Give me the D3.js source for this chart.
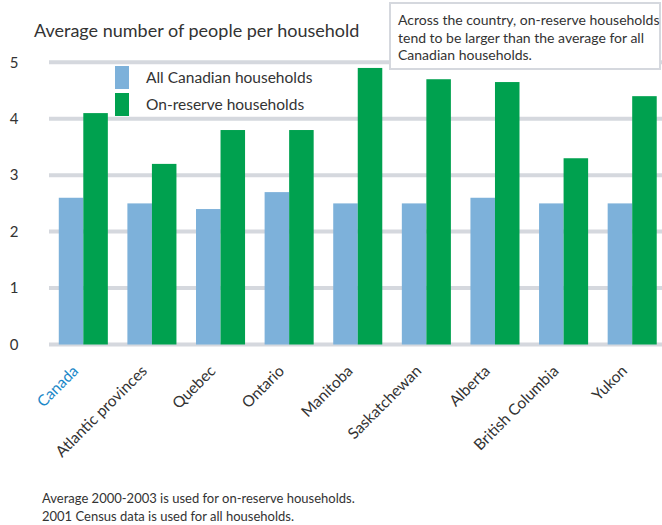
<!DOCTYPE html>
<html>
<head>
<meta charset="utf-8">
<script src="https://cdn.jsdelivr.net/npm/d3@7"></script>
<style>
  html, body { margin: 0; padding: 0; background: #fff; }
  svg { display: block; font-family: Lato, "Open Sans", sans-serif; }
</style>
</head>
<body>
<svg id="chart" width="662" height="525"></svg>
<script>
// Household size by region
const regions = ["Canada", "Atlantic provinces", "Quebec", "Ontario", "Manitoba",
                 "Saskatchewan", "Alberta", "British Columbia", "Yukon"];
const allHouseholds = [2.6, 2.5, 2.4, 2.7, 2.5, 2.5, 2.6, 2.5, 2.5];
const onReserve     = [4.1, 3.2, 3.8, 3.8, 4.9, 4.7, 4.65, 3.3, 4.4];
const seriesNames   = ["All Canadian households", "On-reserve households"];
const yTicks        = [0, 1, 2, 3, 4, 5];
const noteLines     = ["Across the country, on-reserve households",
                       "tend to be larger than the average for all",
                       "Canadian households."];
const footLines     = ["Average 2000-2003 is used for on-reserve households.",
                       "2001 Census data is used for all households."];

const colors = ["#7db1da", "#00a14f"];
const textColor = "#333";
const gridColor = "#d5d8de";

const svg = d3.select("#chart");

const x = d3.scaleBand()
  .domain(regions)
  .range([49, 666.5])
  .paddingInner(0.285)
  .paddingOuter(0.1425);

const xInner = d3.scaleBand()
  .domain(seriesNames)
  .range([0, x.bandwidth()]);

const y = d3.scaleLinear()
  .domain([0, 5])
  .range([344.5, 62.3]);

// Gridlines
svg.append("g")
  .selectAll("line")
  .data(yTicks)
  .join("line")
  .attr("x1", 49)
  .attr("x2", 662)
  .attr("y1", d => y(d))
  .attr("y2", d => y(d))
  .attr("stroke", gridColor)
  .attr("stroke-width", 4);

// Y axis labels
const yAxis = d3.axisLeft(y).tickValues(yTicks).tickSize(0).tickPadding(0).tickFormat(d3.format("d"));
svg.append("g")
  .attr("transform", "translate(20,0)")
  .call(yAxis)
  .call(g => g.select(".domain").remove())
  .call(g => g.selectAll("text")
    .attr("fill", textColor)
    .attr("font-size", 15)
    .attr("font-family", "Lato, sans-serif")
    .attr("text-anchor", "middle")
    .attr("dx", -6));

// Bars
const rows = regions.map((r, i) => ({ region: r, values: [allHouseholds[i], onReserve[i]] }));
const groups = svg.append("g")
  .selectAll("g")
  .data(rows)
  .join("g")
  .attr("transform", d => `translate(${x(d.region)},0)`);

groups.selectAll("rect")
  .data(d => d.values.map((v, k) => ({ key: seriesNames[k], value: v, k })))
  .join("rect")
  .attr("x", d => xInner(d.key))
  .attr("width", xInner.bandwidth())
  .attr("y", d => y(d.value))
  .attr("height", d => y(0) - y(d.value))
  .attr("fill", d => colors[d.k]);

// Category labels
const xAxis = d3.axisBottom(x).tickSize(0).tickPadding(0);
svg.append("g")
  .call(xAxis)
  .call(g => g.select(".domain").remove())
  .call(g => g.selectAll(".tick").attr("transform", d => `translate(${x(d) + x.bandwidth() / 2 - 4},372)`))
  .call(g => g.selectAll("text")
    .attr("y", 0)
    .attr("dy", 0)
    .attr("transform", "rotate(-45)")
    .attr("text-anchor", "end")
    .attr("font-size", 15.5)
    .attr("font-family", "Lato, sans-serif")
    .attr("fill", d => d === "Canada" ? "#1a87c8" : textColor));

// Title
svg.append("text")
  .attr("x", 34)
  .attr("y", 37)
  .attr("font-size", 18)
  .attr("fill", textColor)
  .text("Average number of people per household");

// Legend
const legend = svg.append("g").attr("transform", "translate(115,66)");
seriesNames.forEach((name, k) => {
  legend.append("rect")
    .attr("x", 0).attr("y", k * 27)
    .attr("width", 14).attr("height", 23)
    .attr("fill", colors[k]);
  legend.append("text")
    .attr("x", 31).attr("y", k * 27 + 17)
    .attr("font-size", 15.5)
    .attr("fill", textColor)
    .text(name);
});

// Note box
svg.append("rect")
  .attr("x", 390).attr("y", 3)
  .attr("width", 270).attr("height", 66)
  .attr("fill", "#fff")
  .attr("stroke", gridColor)
  .attr("stroke-width", 2);
svg.append("g")
  .selectAll("text")
  .data(noteLines)
  .join("text")
  .attr("x", 398)
  .attr("y", (d, i) => 25 + i * 17.5)
  .attr("font-size", 14)
  .attr("fill", textColor)
  .text(d => d);

// Footnotes
svg.append("g")
  .selectAll("text")
  .data(footLines)
  .join("text")
  .attr("x", 42)
  .attr("y", (d, i) => 503 + i * 18)
  .attr("font-size", 13)
  .attr("fill", textColor)
  .text(d => d);
</script>
</body>
</html>
